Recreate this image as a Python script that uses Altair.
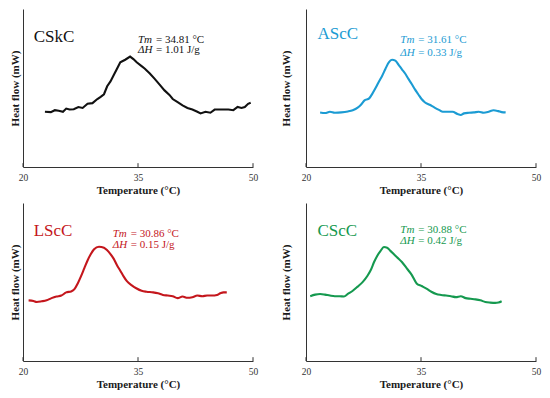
import altair as alt
import pandas as pd

# ---------------- data ----------------
names = ["CSkC", "AScC", "LScC", "CScC"]
colors = ["#111111", "#1b9bd3", "#c4161c", "#15994f"]
tm_values = ["34.81", "31.61", "30.86", "30.88"]
dh_values = ["1.01", "0.33", "0.15", "0.42"]
x_ticks = [20, 35, 50]

cskc_T = [22.86, 23.63, 24.15, 24.66, 25.21, 25.64, 26.07, 26.62, 27.22, 27.78,
          28.42, 29.06, 29.70, 30.13, 30.56, 30.98, 31.41, 31.84, 32.26, 32.69,
          33.33, 33.97, 34.40, 34.83, 35.47, 35.90, 36.54, 37.18, 37.82, 38.46,
          39.10, 39.53, 40.17, 40.81, 41.45, 42.09, 42.74, 43.16, 43.80, 44.44,
          45.00, 45.51, 46.15, 46.79, 47.44, 47.99, 48.50, 48.93, 49.36, 49.70]
cskc_hf = [17.3, 17.2, 17.8, 17.6, 17.3, 18.3, 18.0, 18.1, 18.8, 18.5,
           19.8, 20.0, 21.3, 22.0, 22.8, 25.3, 26.8, 28.8, 30.8, 32.8,
           33.6, 34.6, 33.8, 32.8, 31.6, 30.8, 29.3, 27.6, 25.8, 24.0,
           22.6, 21.3, 20.3, 19.3, 18.5, 18.0, 17.3, 16.8, 17.3, 17.0,
           18.0, 18.0, 18.0, 18.0, 17.8, 18.8, 18.5, 18.8, 19.8, 20.1]

ascc_T = [21.84, 22.48, 23.12, 23.76, 24.61, 25.46, 26.10, 26.74, 27.17, 27.60,
          28.24, 28.66, 29.09, 29.52, 29.94, 30.37, 30.80, 31.22, 31.65, 32.08,
          32.51, 32.93, 33.36, 33.79, 34.21, 34.64, 35.07, 35.49, 36.13, 36.77,
          37.41, 37.84, 38.48, 39.12, 39.76, 40.19, 40.61, 41.25, 41.90, 42.54,
          43.18, 43.82, 44.46, 45.10, 45.52, 46.04]
ascc_hf = [17.1, 16.9, 17.3, 17.0, 17.1, 17.4, 17.8, 18.6, 19.5, 20.8,
           21.5, 23.0, 24.8, 26.8, 28.6, 30.8, 32.8, 33.6, 33.3, 32.0,
           30.6, 29.3, 27.6, 26.0, 24.3, 22.8, 21.3, 20.3, 19.5, 18.6,
           17.8, 17.3, 17.3, 17.3, 16.6, 16.3, 16.8, 17.0, 17.1, 17.3,
           17.0, 17.3, 17.8, 17.5, 17.2, 17.1]

lscc_T = [20.73, 21.37, 21.79, 22.44, 23.08, 23.72, 24.36, 25.00, 25.64, 26.28,
          26.71, 27.14, 27.56, 27.99, 28.42, 28.85, 29.27, 29.91, 30.56, 30.98,
          31.41, 31.84, 32.26, 32.69, 33.12, 33.55, 34.19, 34.83, 35.47, 36.11,
          36.97, 37.61, 38.25, 38.89, 39.53, 40.17, 40.81, 41.45, 42.09, 42.74,
          43.38, 44.02, 44.66, 45.30, 45.73, 46.15, 46.58]
lscc_hf = [19.0, 18.8, 18.5, 18.7, 19.0, 19.7, 20.2, 20.5, 21.5, 21.8,
           22.5, 24.3, 26.5, 29.0, 31.5, 33.5, 35.0, 35.8, 35.5, 34.7,
           33.5, 32.0, 30.0, 28.3, 26.5, 25.0, 23.7, 22.7, 22.0, 21.7,
           21.5, 21.2, 20.7, 20.5, 20.3, 19.7, 20.2, 19.8, 20.0, 20.5,
           20.3, 20.5, 20.5, 20.7, 21.2, 21.5, 21.5]

cscc_T = [20.55, 21.20, 21.84, 22.48, 23.12, 23.76, 24.40, 24.95, 25.46, 26.10,
          26.74, 27.38, 28.02, 28.45, 28.88, 29.30, 29.73, 30.16, 30.58, 31.01,
          31.44, 31.87, 32.51, 33.15, 33.79, 34.43, 35.07, 35.71, 36.35, 36.99,
          37.63, 38.27, 38.91, 39.55, 40.19, 40.83, 41.47, 42.11, 42.75, 43.39,
          44.03, 44.67, 45.10, 45.52]
cscc_hf = [20.3, 20.8, 21.0, 20.8, 20.5, 20.3, 20.3, 20.2, 21.0, 22.0,
           23.3, 24.7, 26.7, 28.5, 31.0, 33.0, 34.5, 35.7, 35.5, 34.5,
           33.5, 32.5, 31.0, 29.0, 27.0, 24.3, 23.5, 22.7, 21.7, 21.0,
           20.7, 20.5, 20.3, 20.0, 20.3, 19.7, 19.5, 19.3, 19.0, 18.5,
           18.3, 18.2, 18.3, 18.7]

series_T = [cskc_T, ascc_T, lscc_T, cscc_T]
series_hf = [cskc_hf, ascc_hf, lscc_hf, cscc_hf]

# annotation anchors (data coordinates)
label_T = [21.4, 21.5, 21.4, 21.5]
label_hf = [39.3, 40.2, 39.3, 39.3]
ann_T = [35.0, 32.3, 31.7, 32.3]
ann_hf1 = [39.0, 38.7, 39.0, 40.2]
ann_hf2 = [35.7, 34.8, 35.4, 36.6]

# ---------------- style ----------------
FONT = "Liberation Serif"
AXIS_COLOR = "#333333"
W, H = 230, 158
Y_TITLE_PAD = [3, 15, 3, 15]
interp = ["linear", "monotone", "monotone", "monotone"]


def panel(i):
    xs = alt.Scale(domain=[20, 50], nice=False, zero=False)
    ys = alt.Scale(domain=[0, 49.5], nice=False, zero=False)
    xaxis = alt.Axis(values=x_ticks, ticks=False, grid=False, domainColor=AXIS_COLOR,
                     domainWidth=1, labelFont=FONT, labelFontSize=9.5, labelColor="#333333",
                     labelPadding=5, labelFlush=False, title="Temperature (°C)",
                     titleFont=FONT, titleFontSize=11, titleFontWeight="bold",
                     titleColor="#1a1a1a", titlePadding=3, format="d")
    yaxis = alt.Axis(labels=False, ticks=False, grid=False, domainColor=AXIS_COLOR,
                     domainWidth=1, title="Heat flow (mW)", titleFont=FONT,
                     titleFontSize=11, titleFontWeight="bold", titleColor="#1a1a1a",
                     titlePadding=Y_TITLE_PAD[i], titleLimit=300)
    xe = alt.X("T:Q", scale=xs, axis=xaxis)
    ye = alt.Y("hf:Q", scale=ys, axis=yaxis)

    df = pd.DataFrame({"T": series_T[i], "hf": series_hf[i]})
    line = alt.Chart(df).mark_line(color=colors[i], strokeWidth=2.1,
                                   interpolate=interp[i]).encode(x=xe, y=ye)

    tick_df = pd.DataFrame({"T": x_ticks, "hf": [0.0] * 3, "hf2": [1.2] * 3})
    ticks = alt.Chart(tick_df).mark_rule(color=AXIS_COLOR, strokeWidth=1).encode(
        x=xe, y=ye, y2="hf2:Q")

    lab_df = pd.DataFrame({"T": [label_T[i]], "hf": [label_hf[i]], "txt": [names[i]]})
    lab = alt.Chart(lab_df).mark_text(align="left", baseline="alphabetic", font=FONT,
                                      fontSize=17, color=colors[i]).encode(
        x=xe, y=ye, text="txt:N")

    it_df = pd.DataFrame({"T": [ann_T[i], ann_T[i]], "hf": [ann_hf1[i], ann_hf2[i]],
                          "txt": ["Tm", "ΔH"]})
    it = alt.Chart(it_df).mark_text(align="left", baseline="alphabetic", font=FONT,
                                    fontSize=11, fontStyle="italic", color=colors[i]).encode(
        x=xe, y=ye, text="txt:N")

    rest_df = pd.DataFrame({"T": [ann_T[i], ann_T[i]], "hf": [ann_hf1[i], ann_hf2[i]],
                            "txt": ["= " + tm_values[i] + " °C", "= " + dh_values[i] + " J/g"]})
    rest = alt.Chart(rest_df).mark_text(align="left", baseline="alphabetic", font=FONT,
                                        fontSize=11, dx=18, color=colors[i]).encode(
        x=xe, y=ye, text="txt:N")
    return alt.layer(line, ticks, lab, it, rest).properties(width=W, height=H)


chart = alt.concat(
    panel(0), panel(1), panel(2), panel(3),
    columns=2,
    spacing={"row": 36, "column": 53},
    bounds="flush",
).properties(
    padding={"left": 0, "top": 0, "right": 0, "bottom": 0},
    background="white",
).configure_view(stroke="transparent")

chart.save("out.html", embed_options={"renderer": "svg", "actions": False})
